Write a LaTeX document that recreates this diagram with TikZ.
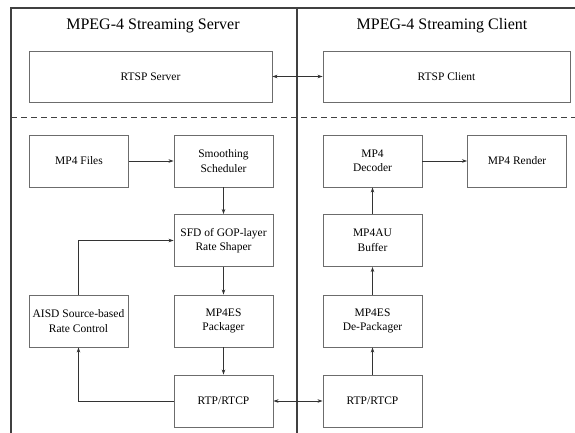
\documentclass[tikz,border=0pt]{standalone}
\usepackage{fontspec}
\setmainfont{Liberation Serif}
\newfontfamily\diagfont{Liberation Serif}
\usetikzlibrary{arrows.meta}
\tikzset{
  blk/.style={draw=gray!85!black, line width=0.9pt, minimum width=99pt, minimum height=52pt, inner sep=1pt, align=center, font=\diagfont\fontsize{11.5}{14.5}\selectfont},
  wideblk/.style={blk, minimum height=51pt},
  arr/.style={draw=black!80, line width=0.7pt, -{Stealth[length=5pt,width=3.5pt]}},
  biarr/.style={draw=black!80, line width=0.7pt, {Stealth[length=5pt,width=3.5pt]}-{Stealth[length=5pt,width=3.5pt]}},
  frame/.style={draw=black!75, line width=1.2pt},
  ttl/.style={font=\diagfont\fontsize{16}{18}\selectfont}
}
\begin{document}
\begin{tikzpicture}[x=1pt, y=-1pt]
\useasboundingbox [fill=white] (0,0) rectangle (575,433);
\draw[frame] (575,8) -- (11,8) -- (11,433);
\draw[frame] (297,8) -- (297,433);
\draw[frame, line width=0.9pt, dash pattern=on 6pt off 4pt] (11,117) -- (575,117); % control / data plane
\node[ttl] (srvttl) at (153,26) {MPEG-4 Streaming Server};
\node[ttl] (clittl) at (442,26) {MPEG-4 Streaming Client};
\node[wideblk, minimum width=243pt] (rtsps) at (150.5,76.5) {RTSP Server};
\node[wideblk, minimum width=247pt] (rtspc) at (446.5,76.5) {RTSP Client};
\node[blk] (files) at (79,161) {MP4 Files};
\node[blk] (smooth) at (223.5,161) {Smoothing\\Scheduler};
\node[blk] (sfd) at (223.5,240.5) {SFD of GOP-layer\\Rate Shaper};
\node[blk] (aisd) at (78.5,321) {AISD Source-based\\Rate Control};
\node[blk] (pack) at (223.5,321) {MP4ES\\Packager};
\node[blk] (rtps) at (223.5,401) {RTP/RTCP};
\node[blk] (dec) at (372.5,161) {MP4\\Decoder};
\node[blk] (render) at (517,161) {MP4 Render};
\node[blk] (buf) at (372.5,240.5) {MP4AU\\Buffer};
\node[blk] (depack) at (372.5,321) {MP4ES\\De-Packager};
\node[blk] (rtpc) at (372.5,401) {RTP/RTCP};
\draw[biarr] (rtsps) -- (rtspc);
\draw[arr] (files) -- (smooth);
\draw[arr] (smooth) -- (sfd);
\draw[arr] (sfd) -- (pack);
\draw[arr] (pack) -- (rtps);
\draw[arr] (rtps.west) -| (aisd.south);
\draw[arr] (aisd.north) |- (sfd.west);
\draw[biarr] (rtps) -- (rtpc);
\draw[arr] (rtpc) -- (depack);
\draw[arr] (depack) -- (buf);
\draw[arr] (buf) -- (dec);
\draw[arr] (dec) -- (render);
\end{tikzpicture}
\end{document}
